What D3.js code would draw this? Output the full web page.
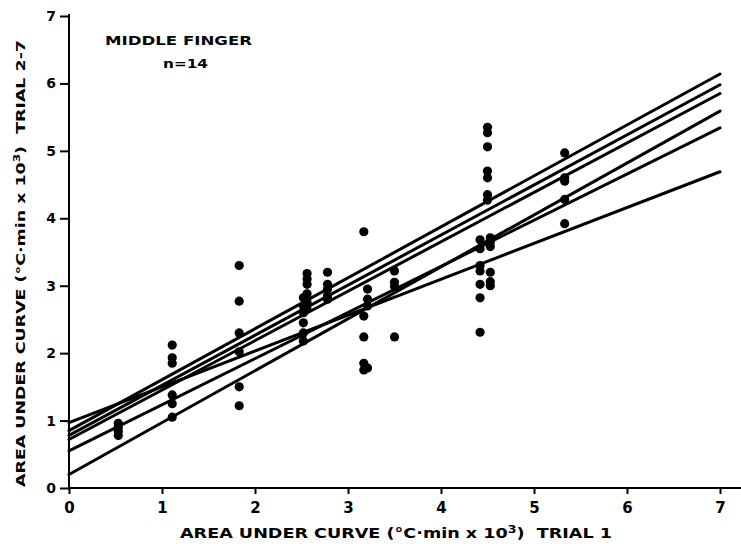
<!DOCTYPE html>
<html>
<head>
<meta charset="utf-8">
<script src="https://cdn.jsdelivr.net/npm/d3@7"></script>
<style>
  body { margin: 0; background: #fff; }
  text { font-family: "DejaVu Sans", sans-serif; font-weight: bold; fill: #000; }
</style>
</head>
<body>
<div id="chart"></div>
<script>
const trial1Values = [0.53, 1.11, 1.83, 2.52, 2.56, 2.78, 3.17, 3.21, 3.5, 4.42, 4.5, 4.53, 5.33];
const laterTrials = [
    [0.78, 0.84, 0.9, 0.96],
    [2.12, 1.93, 1.85, 1.38, 1.25, 1.05],
    [3.3, 2.77, 2.3, 2.02, 1.5, 1.22],
    [2.18, 2.3, 2.45, 2.6, 2.7, 2.82],
    [3.18, 3.1, 3.02, 2.88, 2.75, 2.65],
    [3.2, 3.02, 2.95, 2.85, 2.8],
    [3.8, 2.55, 2.24, 1.85, 1.75],
    [2.95, 2.8, 2.7, 1.78],
    [3.22, 3.05, 2.99, 2.24],
    [3.68, 3.55, 3.3, 3.22, 3.02, 2.82, 2.31],
    [5.35, 5.27, 5.06, 4.7, 4.6, 4.35, 4.27],
    [3.71, 3.65, 3.58, 3.2, 3.06, 3.0],
    [4.97, 4.6, 4.55, 4.28, 3.92]
];

// regression lines for trials 2-7: value at x = 0 and at x = 7
const lineStart = [0.97, 0.85, 0.78, 0.72, 0.55, 0.20];
const lineEnd = [4.69, 6.14, 5.98, 5.85, 5.34, 5.59];

const tickValues = [0, 1, 2, 3, 4, 5, 6, 7];

const width = 741, height = 551;

const svg = d3.select("#chart")
    .append("svg")
    .attr("width", width)
    .attr("height", height);

svg.append("rect").attr("width", width).attr("height", height).attr("fill", "#fff");

const x = d3.scaleLinear().domain([0, 7]).range([69, 720]);
const y = d3.scaleLinear().domain([0, 7]).range([488, 16]);

// axes
const xAxis = svg.append("g")
    .attr("transform", `translate(0,${y(0)})`)
    .call(d3.axisBottom(x).tickValues(tickValues).tickFormat(d3.format("d"))
        .tickSize(6).tickPadding(8).tickSizeOuter(0));
xAxis.select(".domain").remove();
xAxis.selectAll(".tick line").attr("stroke", "#000").attr("stroke-width", 2);
xAxis.selectAll(".tick text").style("font-size", "15px");

const yAxis = svg.append("g")
    .attr("transform", `translate(${x(0)},0)`)
    .call(d3.axisLeft(y).tickValues(tickValues).tickFormat(d3.format("d"))
        .tickSize(9).tickPadding(4).tickSizeOuter(0));
yAxis.select(".domain").remove();
yAxis.selectAll(".tick line").attr("stroke", "#000").attr("stroke-width", 2);
yAxis.selectAll(".tick text").style("font-size", "14px");

svg.append("line")
    .attr("x1", x(0)).attr("x2", x(7.33))
    .attr("y1", y(0)).attr("y2", y(0))
    .attr("stroke", "#000").attr("stroke-width", 2);
svg.append("line")
    .attr("x1", x(0)).attr("x2", x(0))
    .attr("y1", y(0)).attr("y2", y(7.03))
    .attr("stroke", "#000").attr("stroke-width", 2);

// regression lines
svg.selectAll(".fit")
    .data(lineStart.map((s, i) => [s, lineEnd[i]]))
    .enter()
    .append("line")
    .attr("class", "fit")
    .attr("x1", x(0)).attr("y1", d => y(d[0]))
    .attr("x2", x(7)).attr("y2", d => y(d[1]))
    .attr("stroke", "#000")
    .attr("stroke-width", 3)
    .attr("stroke-linecap", "round");

// points
const points = [];
trial1Values.forEach((t1, i) => {
    laterTrials[i].forEach(v => points.push({t1: t1, v: v}));
});

svg.selectAll("circle")
    .data(points)
    .enter()
    .append("circle")
    .attr("cx", d => x(d.t1))
    .attr("cy", d => y(d.v))
    .attr("r", 4.6)
    .attr("fill", "#000");

// labels
svg.append("text")
    .attr("x", 105).attr("y", 45)
    .attr("textLength", 147).attr("lengthAdjust", "spacingAndGlyphs")
    .style("font-size", "12px")
    .text("MIDDLE FINGER");
svg.append("text")
    .attr("x", 163).attr("y", 68)
    .attr("textLength", 45).attr("lengthAdjust", "spacingAndGlyphs")
    .style("font-size", "12px")
    .text("n=14");

svg.append("text")
    .attr("x", 180).attr("y", 538)
    .attr("textLength", 432).attr("lengthAdjust", "spacingAndGlyphs")
    .style("font-size", "14px")
    .html("AREA UNDER CURVE (°C·min x 10<tspan dy='-5' style='font-size:10px'>3</tspan><tspan dy='5'>)&#160;&#160;TRIAL 1</tspan>");

svg.append("text")
    .attr("transform", "translate(25,487) rotate(-90)")
    .attr("textLength", 447).attr("lengthAdjust", "spacingAndGlyphs")
    .style("font-size", "13px")
    .html("AREA UNDER CURVE (°C·min x 10<tspan dy='-5' style='font-size:9px'>3</tspan><tspan dy='5'>)&#160;&#160;TRIAL 2-7</tspan>");
</script>
</body>
</html>
